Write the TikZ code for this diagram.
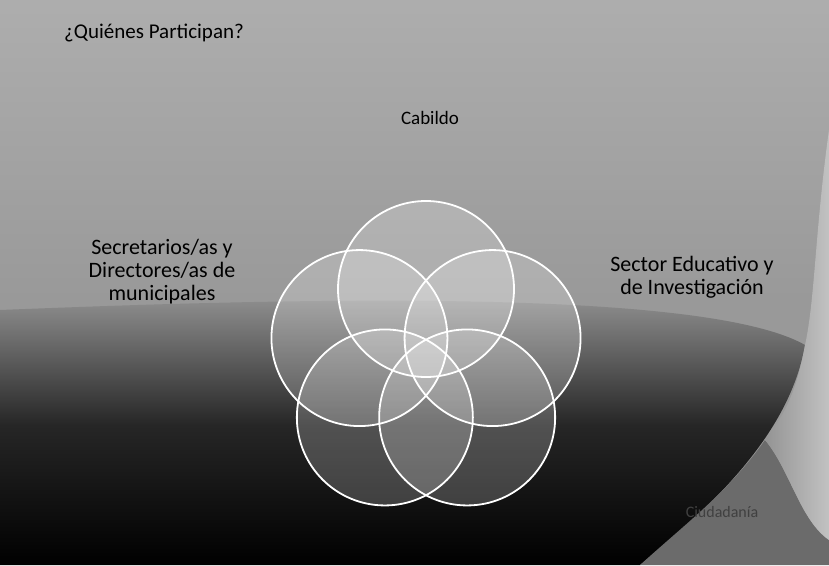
\documentclass[tikz,border=0pt]{standalone}
\usepackage{fontspec}
\setmainfont{Carlito}
\usetikzlibrary{calc}
\begin{document}
\begin{tikzpicture}[x=1pt,y=-1pt,
  ring/.style={draw=white,line width=1.8pt,fill=white,fill opacity=0.2},
  lbl/.style={font=\fontsize{22}{23}\selectfont,text=black,align=center,inner sep=0pt}]
\useasboundingbox (0,0) rectangle (829,565);
% background
\shade[top color=black!32,bottom color=black!40] (0,0) rectangle (829,300);
\fill[black!40] (0,300) rectangle (829,565);
% dark blob
\shade[top color=black!40,bottom color=black,middle color=black!85]
  (0,310) .. controls (250,300) and (700,285) .. (805,345)
  .. controls (790,430) and (720,500) .. (640,565) -- (0,565) -- cycle;
% bottom-right grey
\fill[black!58] (640,565) .. controls (690,520) and (730,490) .. (765,440)
  .. controls (790,470) and (800,520) .. (829,540) -- (829,565) -- cycle;
% right light swoosh
\shade[left color=black!42,right color=black!24]
  (829,130) .. controls (815,230) and (815,300) .. (805,345)
  .. controls (795,400) and (780,420) .. (765,440)
  .. controls (790,470) and (800,520) .. (829,540) -- cycle;
% circles
\coordinate (c) at (426,360);
\foreach \a/\n in {90/T,162/L,18/R,234/BL,306/BR}{
  \node[circle,minimum size=176pt,inner sep=0pt,ring] (\n) at ($(c)+(\a:70 and -71)$) {};
}
% texts
\node[lbl,font=\fontsize{21}{23}\selectfont,anchor=west] (title) at (64,33) {¿Quiénes Participan?};
\node[lbl,font=\fontsize{19}{23}\selectfont] (cab) at (430,118) {Cabildo};
\node[lbl] (sec) at (162,272) {Secretarios/as y\\Directores/as de\\municipales};
\node[lbl] (edu) at (692,277) {Sector Educativo y\\de Investigación};
\node[lbl,font=\fontsize{16}{20}\selectfont,text=black!75] (ciu) at (722,512) {Ciudadanía};
\end{tikzpicture}
\end{document}
